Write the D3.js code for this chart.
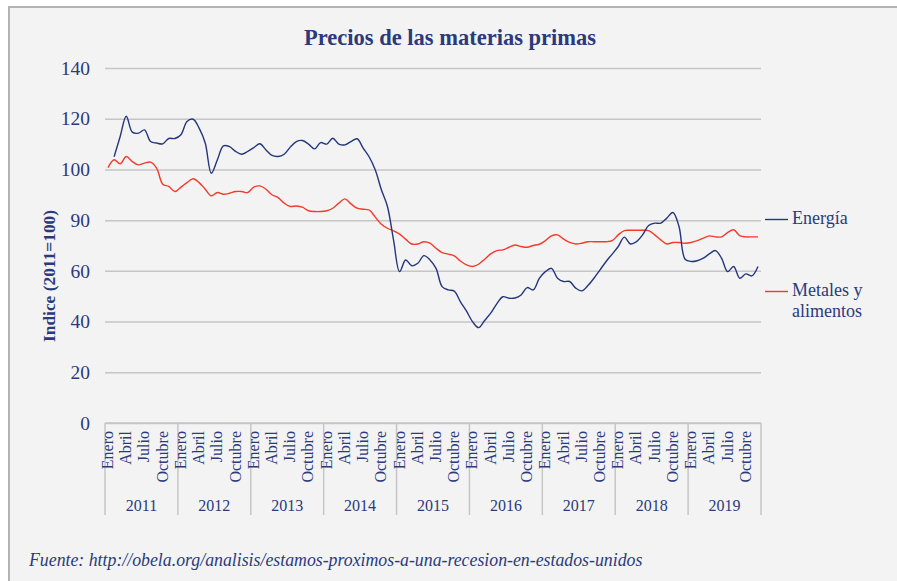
<!DOCTYPE html>
<html>
<head>
<meta charset="utf-8">
<script src="https://cdn.jsdelivr.net/npm/d3@7"></script>
<style>
  body { margin: 0; background: #fff; }
  text { font-family: "Liberation Serif", "Times New Roman", serif; }
</style>
</head>
<body>
<script>
const width = 897;
const height = 581;

// Data (monthly index, 2011=100), Jan 2011 .. Dec 2019
const years = ["2011", "2012", "2013", "2014", "2015", "2016", "2017", "2018", "2019"];
const monthNames = ["Enero", "Abril", "Julio", "Octubre"]; // shown every 3 months
const yTicks = [0, 20, 40, 60, 80, 100, 120, 140];
const yTickLabels = ["0", "20", "40", "60", "90", "100", "120", "140"];

const energia = [
  null, 105, 113, 121, 114.7, 114.3, 115.6, 111, 110.4, 110.1, 112.2, 112.2,
  113.7, 118.9, 119.8, 116.3, 110.4, 98.5, 103.8, 109.3, 109, 107.1, 106, 107.1,
  108.6, 110.1, 107.7, 105.5, 105.1, 106, 108.8, 111, 111.4, 110, 108.1, 110.6,
  110, 112.3, 110, 109.7, 111, 112.1, 108.4, 104.9, 99.8, 92, 85.4, 72.2,
  59.7, 64.3, 62, 63, 66, 64.3, 61, 53.8, 52.5, 52, 47.9, 44.2,
  40, 37.6, 40.4, 43.3, 47, 49.8, 49.2, 49.3, 50.5, 53.4, 52.5, 57,
  59.7, 61, 57.1, 55.8, 55.8, 53.2, 52.1, 54.2, 57.1, 60.4, 63.7, 66.6,
  69.6, 73.3, 70.6, 71.5, 74.2, 77.9, 78.8, 78.8, 80.8, 83, 77.5, 64.6,
  63.7, 64, 65, 66.7, 68, 65, 59.7, 61.7, 57.1, 58.8, 58, 61.7
];

const metales = [
  100.7, 103.8, 102.2, 105.1, 103.1, 101.8, 102.5, 102.9, 100.5, 94.2, 93.3, 91.3,
  93, 94.8, 96.3, 94.8, 92.2, 89.6, 90.9, 90.2, 90.6, 91.3, 91.3, 90.9,
  93, 93.5, 92.2, 90, 88.9, 86.7, 85.4, 85.6, 85.1, 83.7, 83.4, 83.4,
  83.7, 84.7, 86.7, 88.4, 86.4, 84.7, 84.3, 84, 81.2, 78.4, 76.8, 75.8,
  74.5, 72.5, 70.6, 70.6, 71.5, 70.9, 68.9, 67.2, 66.6, 65.9, 63.9, 62.4,
  61.7, 62.6, 64.6, 66.7, 68, 68.3, 69.3, 70.2, 69.6, 69.3, 70, 70.5,
  71.9, 73.8, 74.2, 72.5, 71.2, 70.6, 70.9, 71.5, 71.5, 71.5, 71.5, 71.9,
  74.2, 75.9, 76, 76, 76, 75.9, 74.2, 72.2, 70.6, 71.2, 71.2, 70.9,
  71.2, 71.9, 72.9, 73.8, 73.4, 73.4, 75.1, 76.2, 73.9, 73.4, 73.4, 73.4
];

const textColor = "#2b3a7b";
const gridColor = "#c6c6c6";

const svg = d3.select("body").append("svg")
    .attr("width", width)
    .attr("height", height);

// Chart frame
svg.append("rect")
    .attr("x", 9).attr("y", 7)
    .attr("width", 900).attr("height", 600)
    .attr("fill", "#f3f3f3")
    .attr("stroke", "#b3b3b3")
    .attr("stroke-width", 2);

const plotLeft = 105, plotRight = 761, plotTop = 68, plotBottom = 423;

const months = d3.range(years.length * 12);
const x = d3.scaleBand().domain(months).range([plotLeft, plotRight]);
const xYear = d3.scaleBand().domain(years).range([plotLeft, plotRight]);
const y = d3.scaleLinear().domain([0, 140]).range([plotBottom, plotTop]);

// Title
svg.append("text")
    .attr("x", 450).attr("y", 45)
    .attr("text-anchor", "middle")
    .attr("font-size", 22.5)
    .attr("font-weight", "bold")
    .attr("fill", textColor)
    .text("Precios de las materias primas");

// Y axis with gridlines
const yAxis = svg.append("g")
    .attr("transform", `translate(${plotLeft},0)`)
    .call(d3.axisLeft(y)
        .tickValues(yTicks)
        .tickFormat((d, i) => yTickLabels[i])
        .tickSize(-(plotRight - plotLeft))
        .tickPadding(15));
yAxis.select(".domain").remove();
yAxis.selectAll(".tick line")
    .attr("stroke", gridColor)
    .attr("stroke-width", 1.5);
yAxis.selectAll(".tick text")
    .attr("font-size", 19.5)
    .attr("fill", textColor);

svg.append("text")
    .attr("transform", "translate(55,276) rotate(-90)")
    .attr("text-anchor", "middle")
    .attr("font-size", 17.4)
    .attr("font-weight", "bold")
    .attr("fill", textColor)
    .text("Indice (2011=100)");

// X axis: month labels (every 3 months) and year groups
const xg = svg.append("g");
xg.append("line")
    .attr("x1", plotLeft).attr("x2", plotRight)
    .attr("y1", plotBottom).attr("y2", plotBottom)
    .attr("stroke", gridColor).attr("stroke-width", 1.5);

xg.selectAll(".yearsep")
    .data(years.concat(["end"]))
    .enter().append("line")
    .attr("x1", d => d === "end" ? plotRight : xYear(d))
    .attr("x2", d => d === "end" ? plotRight : xYear(d))
    .attr("y1", plotBottom).attr("y2", 515)
    .attr("stroke", gridColor).attr("stroke-width", 1.5);

xg.selectAll(".month")
    .data(months.filter(m => m % 3 === 0))
    .enter().append("text")
    .attr("transform", m => `translate(${x(m) + x.bandwidth() / 2 + 5},431) rotate(-90)`)
    .attr("text-anchor", "end")
    .attr("font-size", 16)
    .attr("fill", textColor)
    .text(m => monthNames[(m % 12) / 3]);

xg.selectAll(".year")
    .data(years)
    .enter().append("text")
    .attr("x", d => xYear(d) + xYear.bandwidth() / 2)
    .attr("y", 511)
    .attr("text-anchor", "middle")
    .attr("font-size", 16)
    .attr("fill", textColor)
    .text(d => d);

// Lines
const line = d3.line()
    .defined(d => d != null)
    .x((d, i) => x(i) + x.bandwidth() / 2)
    .y(d => y(d))
    .curve(d3.curveCatmullRom.alpha(0.5));

svg.append("path")
    .datum(metales)
    .attr("d", line)
    .attr("fill", "none")
    .attr("stroke", "#f5392b")
    .attr("stroke-width", 1.4);

svg.append("path")
    .datum(energia)
    .attr("d", line)
    .attr("fill", "none")
    .attr("stroke", "#24367c")
    .attr("stroke-width", 1.4);

// Legend
const legend = [
  { label: ["Energía"], color: "#24367c", y: 219.5 },
  { label: ["Metales y", "alimentos"], color: "#f5392b", y: 291.5 }
];
legend.forEach(l => {
  svg.append("line")
      .attr("x1", 765).attr("x2", 788)
      .attr("y1", l.y).attr("y2", l.y)
      .attr("stroke", l.color).attr("stroke-width", 1.4);
  l.label.forEach((t, i) => {
    svg.append("text")
        .attr("x", 792).attr("y", l.y + 4.5 + i * 21)
        .attr("font-size", 18)
        .attr("fill", textColor)
        .text(t);
  });
});

// Source
svg.append("text")
    .attr("x", 29).attr("y", 566)
    .attr("font-size", 17.8)
    .attr("font-style", "italic")
    .attr("fill", textColor)
    .text("Fuente: http://obela.org/analisis/estamos-proximos-a-una-recesion-en-estados-unidos");
</script>
</body>
</html>
